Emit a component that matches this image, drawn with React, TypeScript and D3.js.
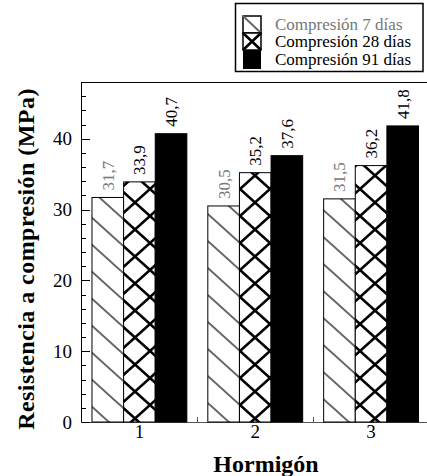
import React from 'react';
import * as d3 from 'd3';

const categories = ['1', '2', '3'];
const seriesNames = ['Compresión 7 días', 'Compresión 28 días', 'Compresión 91 días'];
const values7 = [31.7, 30.5, 31.5];
const values28 = [33.9, 35.2, 36.2];
const values91 = [40.7, 37.6, 41.8];
const labels7 = ['31,7', '30,5', '31,5'];
const labels28 = ['33,9', '35,2', '36,2'];
const labels91 = ['40,7', '37,6', '41,8'];
const yMajorTicks = [0, 10, 20, 30, 40];
const yMinorTicks = d3.range(0, 49, 2);
const xMinorTicks = [0.75, 1.25, 1.5, 1.75, 2.25, 2.5, 2.75, 3.25];

const W = 427, H = 476;
const FONT = "'Liberation Serif', 'Times New Roman', Times, serif";

export default function App() {
  const x = d3.scaleLinear().domain([0.5, 3.5]).range([81.5, 429]);
  const y = d3.scaleLinear().domain([0, 48]).range([422, 82]);
  const series = [
    { vals: values7, labels: labels7, fill: 'url(#hatch1)', labelColor: '#777' },
    { vals: values28, labels: labels28, fill: 'url(#hatch2)', labelColor: '#000' },
    { vals: values91, labels: labels91, fill: '#000', labelColor: '#000' },
  ];
  const barW = 0.273;
  const offsets = [-1, 0, 1];
  const ts = { fontFamily: FONT };

  return (
    <svg width={W} height={H} style={{ position: 'absolute', left: 0, top: 0, fontFamily: FONT }}>
      <defs>
        <pattern id="hatch1" patternUnits="userSpaceOnUse" width={30} height={27}>
          <rect width={30} height={27} fill="#fff" />
          <path d="M-3,-2.7 L33,29.7 M-3,24.3 L3,29.7 M27,-2.7 L33,2.7" stroke="#666" strokeWidth={2} />
        </pattern>
        <pattern id="hatch2" patternUnits="userSpaceOnUse" width={30} height={27}>
          <rect width={30} height={27} fill="#fff" />
          <path d="M-3,-2.7 L33,29.7 M33,-2.7 L-3,29.7" stroke="#000" strokeWidth={2.6} />
        </pattern>
      </defs>

      {/* axes frame */}
      <line x1={81.5} x2={81.5} y1={82} y2={422} stroke="#000" strokeWidth={1} />
      <line x1={81.5} x2={W} y1={82.5} y2={82.5} stroke="#000" strokeWidth={1} />
      <line x1={81.5} x2={W} y1={422.5} y2={422.5} stroke="#555" strokeWidth={1} />
      {yMinorTicks.map(t => (
        <line key={'ym' + t} x1={81.5} x2={yMajorTicks.includes(t) ? 90 : 86} y1={Math.round(y(t)) + 0.5} y2={Math.round(y(t)) + 0.5} stroke="#000" />
      ))}
      {yMajorTicks.map(t => (
        <text key={'yl' + t} style={ts} x={72} y={y(t)} dy="0.35em" textAnchor="end" fontSize={19}>{t}</text>
      ))}
      {xMinorTicks.map(t => (
        <line key={'xm' + t} x1={Math.round(x(t)) + 0.5} x2={Math.round(x(t)) + 0.5} y1={422} y2={417} stroke="#555" />
      ))}
      {categories.map((c, i) => (
        <g key={'xt' + c}>
          <line x1={x(i + 1)} x2={x(i + 1)} y1={422} y2={414} stroke="#000" />
          <text style={ts} x={x(i + 1)} y={438} textAnchor="middle" fontSize={19}>{c}</text>
        </g>
      ))}

      {/* bars */}
      {series.map((s, si) =>
        s.vals.map((v, i) => {
          const cx = i + 1 + offsets[si] * barW;
          const x0 = x(cx - barW / 2);
          const x1 = x(cx + barW / 2);
          return (
            <g key={'b' + si + '-' + i}>
              <rect x={x0} y={y(v)} width={x1 - x0} height={y(0) - y(v)} fill={s.fill} stroke="#000" strokeWidth={1} />
              <text style={ts} transform={`translate(${(x0 + x1) / 2},${y(v) - 7}) rotate(-90)`} dy="0.35em" fontSize={17} fill={s.labelColor}>{s.labels[i]}</text>
            </g>
          );
        })
      )}

      {/* titles */}
      <text style={ts} x={266} y={472} textAnchor="middle" fontSize={24} fontWeight="bold">Hormigón</text>
      <text style={{ ...ts, letterSpacing: '0.45px' }} transform="translate(34,259) rotate(-90)" textAnchor="middle" fontSize={24} fontWeight="bold">Resistencia a compresión (MPa)</text>

      {/* legend */}
      <rect x={235.5} y={3.5} width={187.5} height={68} fill="#fff" stroke="#000" strokeWidth={1.5} />
      <rect x={243} y={16} width={18} height={17} fill="#fff" stroke="#000" strokeWidth={1.5} />
      <line x1={243} y1={16} x2={261} y2={33} stroke="#666" strokeWidth={2} />
      <rect x={243} y={33} width={18} height={17} fill="#fff" stroke="#000" strokeWidth={1.5} />
      <path d="M243,33 L261,50 M261,33 L243,50" stroke="#000" strokeWidth={2.6} />
      <rect x={243} y={50} width={18} height={19} fill="#000" />
      {seriesNames.map((n, i) => (
        <text key={n} style={ts} x={275} y={29.5 + i * 17.5} fontSize={17} fill={i === 0 ? '#777' : '#000'}>{n}</text>
      ))}
    </svg>
  );
}
